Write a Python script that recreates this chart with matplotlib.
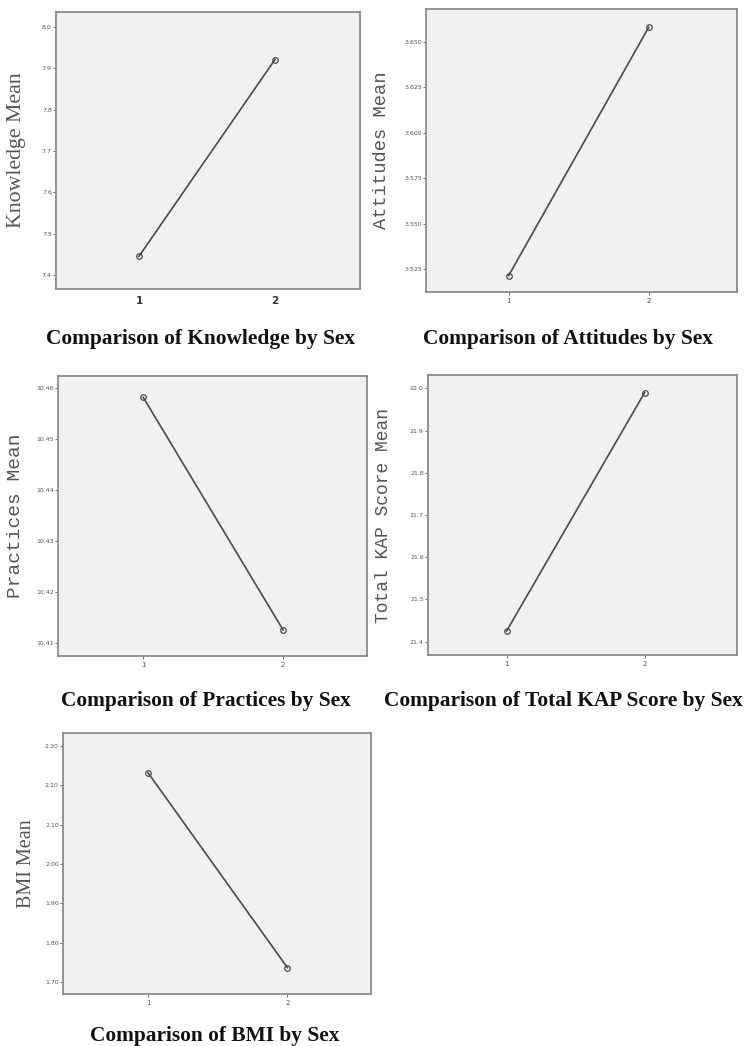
import matplotlib.pyplot as plt

# ==================== data ====================
sex = [1, 2]
knowledge = [7.445, 7.921]
attitudes = [3.5215, 3.658]
practices = [10.4582, 10.4126]
total_kap = [21.425, 21.990]
bmi = [2.232, 1.737]

knowledge_ticks = [7.4, 7.5, 7.6, 7.7, 7.8, 7.9, 8.0]
attitudes_ticks = [3.525, 3.550, 3.575, 3.600, 3.625, 3.650]
practices_ticks = [10.41, 10.42, 10.43, 10.44, 10.45, 10.46]
kap_ticks = [21.4, 21.5, 21.6, 21.7, 21.8, 21.9, 22.0]
bmi_ticks = [1.70, 1.80, 1.90, 2.00, 2.10, 2.20, 2.30]

W, H = 749, 1046
fig = plt.figure(figsize=(W / 100, H / 100), dpi=100)
fig.patch.set_facecolor('white')


def px_axes(left, top, right, bottom):
    return fig.add_axes([left / W, 1 - bottom / H, (right - left) / W, (bottom - top) / H])


def panel(box, y, ticks, fmt, ylim, xlim, ylabel, lab_font, lab_size, lab_x, title, title_xy,
          big_xticks=False):
    ax = px_axes(*box)
    ax.set_facecolor('#f1f1f0')
    ax.plot(sex, y, color='#4a4a4a', lw=1.2, marker='o', ms=4,
            mfc='none', mec='#4a4a4a', mew=0.9)
    ax.set_xlim(*xlim)
    ax.set_ylim(*ylim)
    ax.set_xticks(sex)
    ax.set_yticks(ticks)
    ax.set_yticklabels([fmt.format(t) for t in ticks])
    for s in ax.spines.values():
        s.set_color('#8a8a8a')
        s.set_linewidth(1.3)
    ax.tick_params(axis='y', labelsize=4.5, length=2, width=0.6, colors='#555555', pad=1)
    if big_xticks:
        ax.tick_params(axis='x', labelsize=7.5, length=0, colors='#333333', pad=5)
        for t in ax.get_xticklabels():
            t.set_fontweight('bold')
    else:
        ax.tick_params(axis='x', labelsize=5, length=2, width=0.6, colors='#555555', pad=2)
    # y label placed at a fixed pixel column, centred on the axes
    fig.text(lab_x / W, 1 - (box[1] + box[3]) / 2 / H, ylabel, rotation=90,
             ha='center', va='center', family=lab_font, fontsize=lab_size, color='#555555')
    fig.text(title_xy[0] / W, 1 - title_xy[1] / H, title, ha='center', va='center',
             family='Liberation Serif', fontweight='bold', fontsize=15.4, color='#111111')
    return ax


panel((56, 12, 360, 289), knowledge, knowledge_ticks, '{:.1f}', (7.366, 8.036), (0.39, 2.625),
      'Knowledge Mean', 'Liberation Serif', 15.7, 17, 'Comparison of Knowledge by Sex', (201, 339),
      big_xticks=True)
panel((426, 9, 737, 292), attitudes, attitudes_ticks, '{:.3f}', (3.5125, 3.668), (0.41, 2.63),
      'Attitudes Mean', 'Liberation Mono', 13.5, 381, 'Comparison of Attitudes by Sex', (568, 339))
panel((58, 376, 367, 656), practices, practices_ticks, '{:.2f}', (10.4075, 10.4624), (0.39, 2.6),
      'Practices Mean', 'Liberation Mono', 14, 16, 'Comparison of Practices by Sex', (206, 701))
panel((428, 375, 737, 655), total_kap, kap_ticks, '{:.1f}', (21.368, 22.032), (0.43, 2.67),
      'Total KAP Score Mean', 'Liberation Mono', 13, 383, 'Comparison of Total KAP Score by Sex',
      (563, 701))
panel((63, 733, 371, 994), bmi, bmi_ticks, '{:.2f}', (1.67, 2.333), (0.39, 2.6),
      'BMI Mean', 'Liberation Serif', 14.5, 27, 'Comparison of BMI by Sex', (215, 1036))

fig.savefig('out.png', dpi=100)
